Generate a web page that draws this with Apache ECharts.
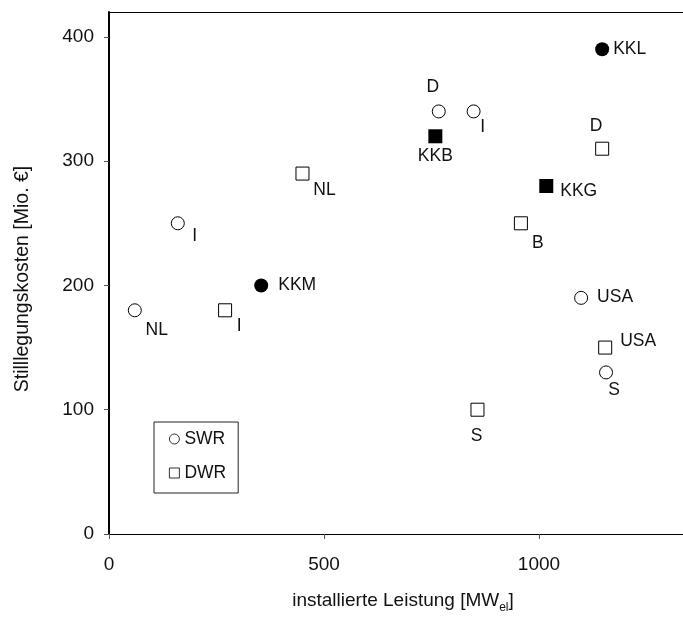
<!DOCTYPE html>
<html>
<head>
<meta charset="utf-8">
<script src="https://cdn.jsdelivr.net/npm/echarts@6/dist/echarts.min.js"></script>
<style>html,body{margin:0;padding:0;background:#fff}#c{width:683px;height:619px}</style>
</head>
<body>
<div id="c"></div>
<script>
// ---- data ----
var swrX = [60, 160, 767, 848, 1098, 1156];
var swrY = [180, 250, 340, 340, 190, 130];
var swrNames = ['NL', 'I', 'D', 'I', 'USA', 'S'];

var dwrX = [270, 450, 857, 958, 1147, 1154];
var dwrY = [180, 290, 100, 250, 310, 150];
var dwrNames = ['I', 'NL', 'S', 'B', 'D', 'USA'];

var chSwrX = [354, 1147];
var chSwrY = [200, 390];
var chSwrNames = ['KKM', 'KKL'];

var chDwrX = [759, 1017];
var chDwrY = [320, 280];
var chDwrNames = ['KKB', 'KKG'];

var xTicks = [0, 500, 1000];
var yTicks = [0, 100, 200, 300, 400];

// ---- label placement (style) ----
var swrLab = [[22, 20, 'center'], [17, 13, 'center'], [-6, -24, 'center'], [9, 16, 'center'], [16, -1, 'left'], [8, 18, 'center']];
var dwrLab = [[14, 16, 'center'], [22, 17, 'center'], [-1, 26, 'center'], [17, 20, 'center'], [-6, -23, 'center'], [15, -6, 'left']];
var chSwrLab = [[17, 0, 'left'], [11, 0, 'left']];
var chDwrLab = [[0, 20, 'center'], [14, 5, 'left']];

var FONT = '"Liberation Sans", Arial, sans-serif';
var TXT = '#111';

function build(xs, ys, names, labs) {
  return xs.map(function (x, i) {
    return {
      value: [x, ys[i]],
      name: names[i],
      label: { offset: [labs[i][0], labs[i][1]], align: labs[i][2] }
    };
  });
}

var labelBase = {
  show: true, position: 'inside', formatter: '{b}', color: TXT,
  fontFamily: FONT, fontSize: 17.5, verticalAlign: 'middle'
};

function plain(v) { return String(v); }

var chart = echarts.init(document.getElementById('c'), null, { renderer: 'canvas' });
chart.setOption({
  animation: false,
  backgroundColor: '#fff',
  grid: { left: 109, top: 12, right: 0, bottom: 79, containLabel: false },
  legend: {
    data: ['SWR', 'DWR'],
    orient: 'vertical',
    left: 154, top: 422,
    padding: [7, 12, 10, 15],
    itemWidth: 10, itemHeight: 10,
    itemGap: 14,
    borderColor: '#222', borderWidth: 1,
    itemStyle: { borderWidth: 0.8 },
    textStyle: { fontFamily: FONT, fontSize: 17.5, color: TXT, lineHeight: 20 },
    selectedMode: false
  },
  xAxis: [{
    type: 'value', min: 0, max: 1335, interval: 500,
    name: '{a|installierte Leistung [MW}{s|el}{a|]}',
    nameLocation: 'middle', nameGap: 57,
    nameTextStyle: {
      padding: [0, 0, 0, 14],
      rich: {
        a: { fontFamily: FONT, fontSize: 19, color: TXT },
        s: { fontFamily: FONT, fontSize: 12, color: TXT, verticalAlign: 'bottom', padding: [0, 0, -4, 0] }
      }
    },
    splitLine: { show: false },
    axisLine: { show: true, lineStyle: { color: '#000', width: 1.2 } },
    axisTick: { show: true, length: 5, lineStyle: { color: '#555' }, customValues: xTicks },
    axisLabel: { fontFamily: FONT, fontSize: 19, color: TXT, margin: 21, customValues: xTicks, formatter: plain }
  }, {
    type: 'value', position: 'top', min: 0, max: 1335,
    axisLine: { show: true, onZero: false, lineStyle: { color: '#000', width: 1 } },
    axisTick: { show: false }, axisLabel: { show: false }, splitLine: { show: false }
  }],
  yAxis: {
    type: 'value', min: 0, max: 420, interval: 100,
    name: 'Stilllegungskosten [Mio. €]',
    nameLocation: 'middle', nameGap: 76, nameRotate: 90,
    nameTextStyle: { fontFamily: FONT, fontSize: 19.5, color: TXT, padding: [0, 12, 0, 0] },
    splitLine: { show: false },
    axisLine: { show: true, onZero: false, lineStyle: { color: '#000', width: 2 } },
    axisTick: { show: true, length: 5, lineStyle: { color: '#555' }, customValues: yTicks },
    axisLabel: { fontFamily: FONT, fontSize: 19, color: TXT, margin: 15, customValues: yTicks, formatter: plain }
  },
  series: [{
    name: 'SWR', type: 'scatter', symbol: 'circle', symbolSize: 13,
    itemStyle: { color: '#fff', borderColor: '#000', borderWidth: 1, opacity: 1 },
    label: labelBase,
    data: build(swrX, swrY, swrNames, swrLab)
  }, {
    name: 'DWR', type: 'scatter', symbol: 'rect', symbolSize: 13,
    itemStyle: { color: '#fff', borderColor: '#000', borderWidth: 1, opacity: 1 },
    label: labelBase,
    data: build(dwrX, dwrY, dwrNames, dwrLab)
  }, {
    name: 'SWR CH', type: 'scatter', symbol: 'circle', symbolSize: 14,
    itemStyle: { color: '#000', opacity: 1 },
    label: labelBase,
    data: build(chSwrX, chSwrY, chSwrNames, chSwrLab)
  }, {
    name: 'DWR CH', type: 'scatter', symbol: 'rect', symbolSize: 14,
    itemStyle: { color: '#000', opacity: 1 },
    label: labelBase,
    data: build(chDwrX, chDwrY, chDwrNames, chDwrLab)
  }]
});
</script>
</body>
</html>
